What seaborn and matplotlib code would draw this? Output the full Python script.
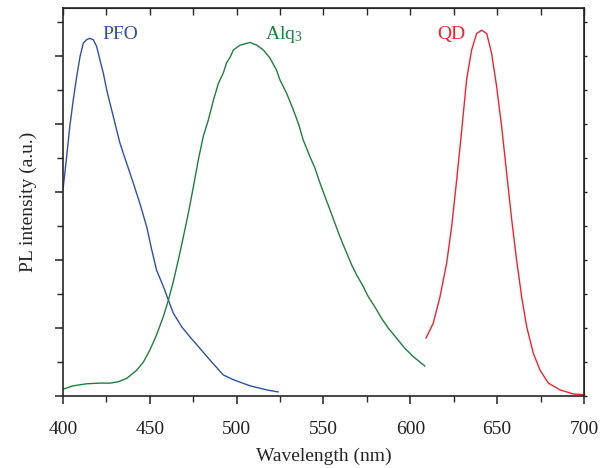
import numpy as np
import pandas as pd
import matplotlib
matplotlib.use("Agg")
import matplotlib.pyplot as plt
import seaborn as sns

# ============================================================
# Data (arbitrary PL units)
# ============================================================

pfo_nm = [400.0, 402.1, 403.9, 405.9, 407.9, 409.8, 411.7, 413.6, 415.5, 417.4,
          419.4, 421.3, 423.2, 425.2, 427.1, 429.0, 430.9, 432.8, 434.7, 436.7,
          440.5, 444.3, 448.2, 451.1, 453.9, 457.8, 460.7, 463.5, 468.3, 473.1,
          478.9, 484.6, 492.3, 498.1, 507.7, 517.3, 524.0]
pfo_pl = [3.03, 3.52, 3.96, 4.35, 4.70, 4.99, 5.19, 5.24, 5.26, 5.24,
          5.14, 4.94, 4.75, 4.50, 4.30, 4.11, 3.91, 3.72, 3.57, 3.42,
          3.13, 2.83, 2.49, 2.15, 1.85, 1.61, 1.41, 1.22, 1.02, 0.87,
          0.70, 0.53, 0.31, 0.24, 0.15, 0.09, 0.06]

alq_nm = [400.0, 405.9, 413.6, 421.3, 427.1, 431.9, 436.7, 442.5, 446.3, 450.1,
          453.9, 457.8, 460.7, 463.5, 466.4, 469.3, 472.2, 475.1, 477.9, 480.8,
          483.7, 486.6, 489.5, 492.3, 494.2, 496.2, 498.1, 502.0, 507.7, 511.5,
          515.3, 519.2, 523.0, 524.9, 528.8, 532.6, 535.5, 538.4, 542.2, 545.1,
          548.0, 550.9, 553.7, 556.6, 559.5, 563.4, 566.2, 569.1, 572.9, 575.8,
          579.6, 583.5, 587.3, 592.1, 596.9, 601.7, 608.4]
alq_pl = [0.10, 0.15, 0.18, 0.19, 0.19, 0.21, 0.26, 0.38, 0.50, 0.68,
          0.90, 1.17, 1.41, 1.68, 2.00, 2.34, 2.69, 3.08, 3.47, 3.82,
          4.06, 4.35, 4.60, 4.75, 4.90, 4.98, 5.09, 5.16, 5.20, 5.16,
          5.09, 4.97, 4.79, 4.65, 4.45, 4.21, 4.01, 3.76, 3.52, 3.35,
          3.13, 2.93, 2.74, 2.54, 2.34, 2.10, 1.93, 1.78, 1.61, 1.46,
          1.31, 1.14, 1.00, 0.85, 0.70, 0.58, 0.44]

qd_nm = [609.0, 613.2, 617.1, 620.9, 623.8, 626.7, 629.6, 632.4, 635.3, 638.2,
         641.1, 644.0, 646.8, 649.7, 652.6, 655.5, 658.4, 661.2, 664.1, 667.0,
         670.8, 674.7, 679.5, 686.2, 693.9, 699.6]
qd_pl = [0.85, 1.07, 1.46, 1.95, 2.49, 3.18, 3.91, 4.65, 5.09, 5.33,
         5.38, 5.33, 5.04, 4.55, 3.96, 3.27, 2.59, 2.00, 1.46, 1.02,
         0.63, 0.38, 0.19, 0.09, 0.03, 0.02]

labels = ["PFO", "Alq$_3$", "QD"]
label_nm = [432.8, 527.3, 623.4]
label_pl = [5.32, 5.32, 5.32]
colors = ["#2f4fae", "#1b8040", "#f5222d"]

# ============================================================
# Plot
# ============================================================

sns.set_style("ticks")
plt.rcParams["font.family"] = ["Liberation Serif", "DejaVu Serif"]
plt.rcParams["mathtext.fontset"] = "custom"
plt.rcParams["mathtext.rm"] = "Liberation Serif"
plt.rcParams["mathtext.it"] = "Liberation Serif"

fig = plt.figure(figsize=(6.08, 4.68), dpi=100)
ax = fig.add_axes([0.1036, 0.1538, 0.8569, 0.8291])

series = [(pfo_nm, pfo_pl), (alq_nm, alq_pl), (qd_nm, qd_pl)]
for (x, y), c in zip(series, colors):
    df = pd.DataFrame({"nm": x, "pl": y})
    sns.lineplot(data=df, x="nm", y="pl", color=c, linewidth=1.0,
                 sort=False, estimator=None, ax=ax)

for txt, x, y, c in zip(labels, label_nm, label_pl, colors):
    ax.text(x, y, txt, color=c, fontsize=14, ha="center", va="center")

ax.set_xlim(400, 700)
ax.set_ylim(0, 5.706)
ax.set_xticks([400, 450, 500, 550, 600, 650, 700])
ax.set_xticks(np.arange(425, 700, 50), minor=True)
ax.set_yticks(np.arange(0, 6, 1))
ax.set_yticks(np.arange(0.5, 6, 1), minor=True)
ax.set_yticklabels([])

ax.set_xlabel("Wavelength (nm)", fontsize=14, labelpad=7)
ax.set_ylabel("PL intensity (a.u.)", fontsize=14, labelpad=9)

for s in ax.spines.values():
    s.set_linewidth(1.2)
    s.set_visible(True)

ax.tick_params(axis="both", which="major", direction="out", length=6,
               width=1.1, labelsize=14, colors="#222222")
ax.tick_params(axis="both", which="minor", direction="out", length=4,
               width=1.0)
ax.tick_params(axis="x", which="major", pad=12)

# mirrored top/right ticks drawn as secondary axes
top = ax.secondary_xaxis("top")
top.set_xticks([400, 450, 500, 550, 600, 650, 700])
top.set_xticks(np.arange(425, 700, 50), minor=True)
top.tick_params(which="both", direction="in", length=5, width=1.0,
                labeltop=False)
top.set_xticklabels([])
right = ax.secondary_yaxis("right")
right.set_yticks(np.arange(0, 6, 1))
right.set_yticks(np.arange(0.5, 6, 1), minor=True)
right.tick_params(which="both", direction="out", length=2, width=1.0)
right.set_yticklabels([])

plt.savefig("out.png", dpi=100)
